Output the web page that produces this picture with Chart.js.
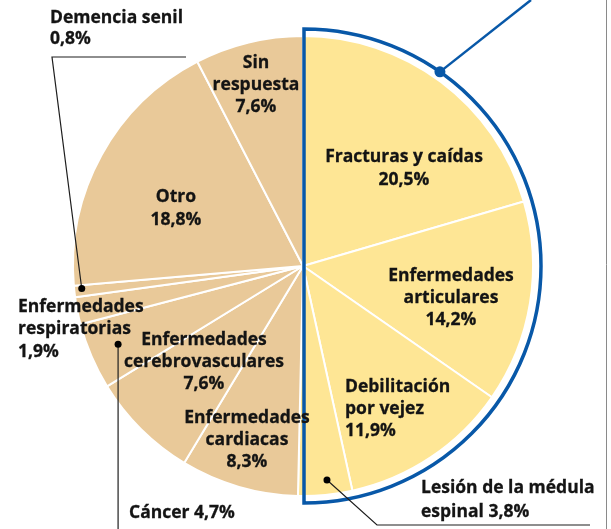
<!DOCTYPE html>
<html>
<head>
<meta charset="utf-8">
<script src="https://cdn.jsdelivr.net/npm/chart.js@4.4.0/dist/chart.umd.min.js"></script>
<style>
    html, body { margin: 0; padding: 0; background: #fff; }
    #wrap { position: relative; width: 611px; height: 529px; overflow: hidden; }
    #chart { position: absolute; left: 0; top: 0; }
    .lbl {
        position: absolute;
        font-family: "Open Sans", sans-serif;
        font-weight: 700;
        font-size: 17.5px;
        color: #141414;
        -webkit-text-stroke: 0.3px #141414;
        white-space: pre;
    }
</style>
</head>
<body>
<div id="wrap"><canvas id="chart" width="611" height="529"></canvas></div>
<script>
// Slices, clockwise from 12 o'clock
const categories = [
    'Fracturas y caídas',
    'Enfermedades\narticulares',
    'Debilitación\npor vejez',
    'Lesión de la médula\nespinal',
    'Enfermedades\ncardiacas',
    'Enfermedades\ncerebrovasculares',
    'Cáncer',
    'Enfermedades\nrespiratorias',
    'Demencia senil',
    'Otro',
    'Sin\nrespuesta'
];
const shares = [20.5, 14.2, 11.9, 3.8, 8.3, 7.6, 4.7, 1.9, 0.8, 18.8, 7.6];
// the first four slices form the highlighted half
const highlighted = [true, true, true, true, false, false, false, false, false, false, false];

const YELLOW = 'rgb(254, 230, 149)';
const BEIGE = 'rgb(233, 201, 153)';
const BLUE = 'rgb(8, 88, 168)';
const INK = '#1e1e1e';

// where each label sits (baseline of first line), one entry per slice
const labelLayout = [
    { x: 404, y: 162, align: 'center', step: 23, sep: '\n' },
    { x: 451, y: 281, align: 'center', step: 22, sep: '\n' },
    { x: 345, y: 392, align: 'left', step: 22, sep: '\n' },
    { x: 421, y: 493, align: 'left', step: 24, sep: ' ' },
    { x: 247, y: 423, align: 'center', step: 22, sep: '\n' },
    { x: 204, y: 345, align: 'center', step: 22, sep: '\n' },
    { x: 129, y: 518, align: 'left', step: 22, sep: ' ' },
    { x: 18, y: 312, align: 'left', step: 22.5, sep: '\n' },
    { x: 50, y: 23, align: 'left', step: 21, sep: '\n' },
    { x: 176, y: 202, align: 'center', step: 23, sep: '\n' },
    { x: 256, y: 68, align: 'center', step: 22, sep: '\n' }
];

function pct(v) {
    return v.toFixed(1).replace('.', ',') + '%';
}

// point inside slice i: t = fraction across the angle, f = fraction of radius
function slicePoint(chart, i, t, f) {
    const arc = chart.getDatasetMeta(0).data[i];
    const a = arc.startAngle + (arc.endAngle - arc.startAngle) * t;
    const r = arc.outerRadius * f;
    return [arc.x + Math.cos(a) * r, arc.y + Math.sin(a) * r];
}

function dot(ctx, p, r, color) {
    ctx.beginPath();
    ctx.arc(p[0], p[1], r, 0, Math.PI * 2);
    ctx.fillStyle = color;
    ctx.fill();
}

function polyline(ctx, pts, color, width) {
    ctx.beginPath();
    ctx.moveTo(pts[0][0], pts[0][1]);
    pts.slice(1).forEach(p => ctx.lineTo(p[0], p[1]));
    ctx.strokeStyle = color;
    ctx.lineWidth = width;
    ctx.stroke();
}

const outlinePlugin = {
    id: 'outline',
    afterDatasetsDraw(chart) {
        const ctx = chart.ctx;
        const arc = chart.getDatasetMeta(0).data[0];
        const cx = arc.x + 1;
        const cy = arc.y;
        const R = arc.outerRadius + 7;
        ctx.save();
        ctx.beginPath();
        ctx.moveTo(cx, cy + R);
        ctx.lineTo(cx, cy - R);
        ctx.arc(cx, cy, R, -Math.PI / 2, Math.PI / 2);
        ctx.closePath();
        ctx.strokeStyle = BLUE;
        ctx.lineWidth = 3.5;
        ctx.lineJoin = 'miter';
        ctx.stroke();

        // callout leaving the top of the picture
        const a = -Math.PI / 2 + 35 * Math.PI / 180;
        const p = [cx + Math.cos(a) * R, cy + Math.sin(a) * R];
        polyline(ctx, [p, [531, 0]], BLUE, 2.5);
        dot(ctx, p, 5.5, BLUE);
        ctx.restore();
    }
};

const calloutPlugin = {
    id: 'callouts',
    afterDraw(chart) {
        const ctx = chart.ctx;
        ctx.save();
        const dem = slicePoint(chart, 8, 0.7, 0.967);
        polyline(ctx, [dem, [52, 57], [186, 57]], INK, 1.2);
        dot(ctx, dem, 3.5, '#000');

        const can = slicePoint(chart, 6, 0.51, 0.873);
        polyline(ctx, [can, [can[0], 529]], INK, 1.2);
        dot(ctx, can, 3.5, '#000');

        const les = slicePoint(chart, 3, 0.44, 0.936);
        polyline(ctx, [les, [377, 525], [590, 525]], INK, 1.2);
        dot(ctx, les, 3.5, '#000');

        // frame edge on the right
        polyline(ctx, [[606.5, 0], [606.5, 529]], '#8a8a8a', 1);
        ctx.restore();
    }
};

const ctx = document.getElementById('chart').getContext('2d');
const chart = new Chart(ctx, {
    type: 'pie',
    data: {
        labels: categories,
        datasets: [{
            data: shares,
            backgroundColor: highlighted.map(h => h ? YELLOW : BEIGE),
            borderColor: '#ffffff',
            borderWidth: 2
        }]
    },
    options: {
        responsive: false,
        animation: false,
        layout: { padding: { left: 72, right: 77, top: 35, bottom: 32 } },
        plugins: {
            legend: { display: false },
            tooltip: { enabled: false }
        }
    },
    plugins: [outlinePlugin, calloutPlugin]
});

// text labels
const wrap = document.getElementById('wrap');
const FS = 17.5;
categories.forEach((name, i) => {
    const L = labelLayout[i];
    const el = document.createElement('div');
    el.className = 'lbl';
    el.textContent = name + L.sep + pct(shares[i]);
    el.style.lineHeight = L.step + 'px';
    el.style.textAlign = L.align;
    el.style.top = (L.y - L.step / 2 - 0.388 * FS) + 'px';
    el.style.left = L.x + 'px';
    if (L.align === 'center') el.style.transform = 'translateX(-50%)';
    wrap.appendChild(el);
});
</script>
</body>
</html>
